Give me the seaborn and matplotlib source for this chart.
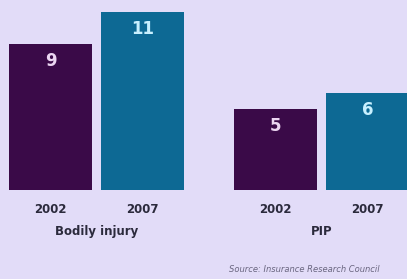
import matplotlib
matplotlib.use('Agg')
import matplotlib.pyplot as plt
import seaborn as sns
import pandas as pd

# data
years = ['2002', '2007']
bodily_injury = [9, 11]
pip = [5, 6]
groups = ['Bodily injury', 'PIP']
source = 'Source: Insurance Research Council'

BG = '#e2dcf8'
PURPLE = '#3a0a48'
TEAL = '#0d6994'
TEXT = '#2b2a3c'
VAL_COLORS = ['#ecd6f2', '#c8f0ff']

sns.set_style('white')
plt.rcParams['font.family'] = ['DejaVu Sans']

W, H = 407, 279
fig = plt.figure(figsize=(W / 100, H / 100), dpi=100, facecolor=BG)

# pixel geometry (left edge of each panel, baseline, px per unit)
base = 190
ppu = 16.2
ymax = 11.6
panel_w = 184
lefts = [4.5, 229.5]

for left, vals, name in zip(lefts, [bodily_injury, pip], groups):
    ax = fig.add_axes([left / W, (H - base) / H, panel_w / W, ymax * ppu / H])
    ax.set_facecolor('none')
    df = pd.DataFrame({'year': years, 'value': vals})
    sns.barplot(data=df, x='year', y='value', hue='year',
                palette=[PURPLE, TEAL], width=0.9, legend=False,
                ax=ax, saturation=1, linewidth=0)
    ax.set_xlim(-0.5, 1.5)
    ax.set_ylim(0, ymax)
    ax.axis('off')
    for i, v in enumerate(vals):
        ax.text(i, v - 1.05, str(v), ha='center', va='center',
                fontsize=12, fontweight='bold', color=VAL_COLORS[i])
        ax.text(i, -1.2, years[i], ha='center', va='center',
                fontsize=8.5, fontweight='bold', color=TEXT, clip_on=False)
    ax.text(0.5, -2.55, name, ha='center', va='center',
            fontsize=8.5, fontweight='bold', color=TEXT, clip_on=False)

fig.text(304 / W, 1 - 270 / H, source, ha='center', va='center',
         fontsize=6, style='italic', color='#6a6680')

fig.savefig('out.png', dpi=100, facecolor=BG)
